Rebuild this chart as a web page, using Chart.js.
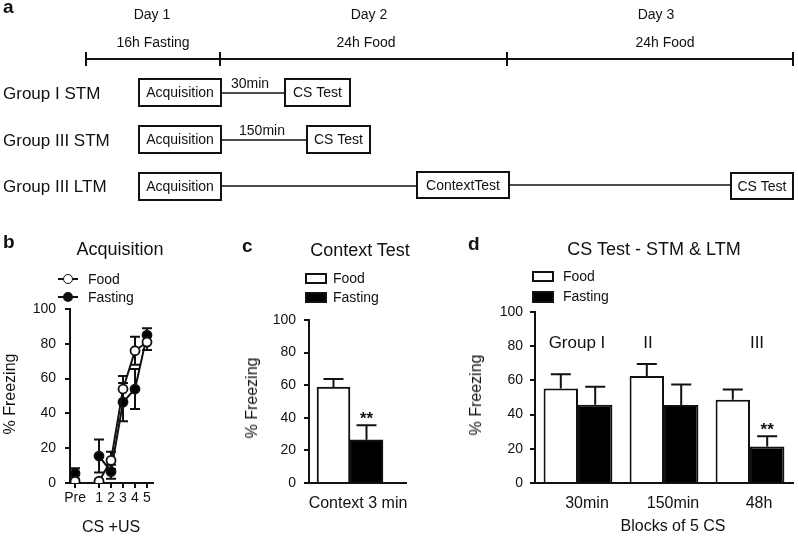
<!DOCTYPE html>
<html lang="en">
<head>
<meta charset="UTF-8">
<title>Fasting and fear conditioning</title>
<script src="https://cdn.jsdelivr.net/npm/chart.js@4.4.0/dist/chart.umd.min.js"></script>
<style>
  body { margin: 0; background: #fff; }
  #fig { position: relative; width: 798px; height: 536px; overflow: hidden;
         font-family: "Liberation Sans", Arial, sans-serif; color: #111; }
  #fig canvas { position: absolute; }
  .t { position: absolute; white-space: nowrap; line-height: 1; }
  .c { transform: translate(-50%, -50%); }
  .l { transform: translateY(-50%); }
  .r { transform: translate(-50%, -50%) rotate(-90deg); }
  .letter { font-weight: bold; font-size: 19px; }
  .title { font-size: 18px; }
  .leg { font-size: 14px; }
  .ax { font-size: 16px; }
  .sw { position: absolute; box-sizing: border-box; border: 2px solid #111; }
</style>
</head>
<body>
<div id="fig">
  <canvas id="ca" width="798" height="220" style="left:0;top:0"></canvas>
  <canvas id="cb" width="215" height="306" style="left:0;top:230px"></canvas>
  <canvas id="cc" width="200" height="306" style="left:220px;top:230px"></canvas>
  <canvas id="cd" width="378" height="306" style="left:420px;top:230px"></canvas>

  <div class="t letter" style="left:3px;top:-3px">a</div>
  <div class="t letter" style="left:3px;top:232px">b</div>
  <div class="t letter" style="left:242px;top:236px">c</div>
  <div class="t letter" style="left:468px;top:234px">d</div>

  <!-- panel b -->
  <div class="t title c" style="left:120px;top:249px">Acquisition</div>
  <div style="position:absolute;left:58px;top:278px;width:20px;height:2px;background:#111"></div>
  <div class="sw" style="left:63px;top:274px;width:10px;height:10px;border-radius:50%;border-width:1.8px;background:#fff"></div>
  <div class="t leg l" style="left:88px;top:279px">Food</div>
  <div style="position:absolute;left:58px;top:296px;width:20px;height:2px;background:#111"></div>
  <div class="sw" style="left:63px;top:292px;width:10px;height:10px;border-radius:50%;background:#111"></div>
  <div class="t leg l" style="left:88px;top:297px">Fasting</div>
  <div class="t ax r" style="left:10px;top:394px">% Freezing</div>
  <div class="t ax c" style="left:111px;top:527px">CS +US</div>

  <!-- panel c -->
  <div class="t title c" style="left:360px;top:250px">Context Test</div>
  <div class="sw" style="left:305px;top:273px;width:22px;height:11px;background:#fff"></div>
  <div class="t leg l" style="left:333px;top:278px">Food</div>
  <div class="sw" style="left:305px;top:292px;width:22px;height:11px;background:#000"></div>
  <div class="t leg l" style="left:333px;top:297px">Fasting</div>
  <div class="t ax r" style="left:252px;top:398px">% Freezing</div>
  <div class="t ax c" style="left:358px;top:503px">Context 3 min</div>

  <!-- panel d -->
  <div class="t title c" style="left:654px;top:249px">CS Test - STM &amp; LTM</div>
  <div class="sw" style="left:532px;top:271px;width:22px;height:11px;background:#fff"></div>
  <div class="t leg l" style="left:563px;top:276px">Food</div>
  <div class="sw" style="left:532px;top:291px;width:22px;height:12px;background:#000"></div>
  <div class="t leg l" style="left:563px;top:296px">Fasting</div>
  <div class="t ax r" style="left:476px;top:395px">% Freezing</div>
  <div class="t ax c" style="left:673px;top:526px">Blocks of 5 CS</div>
  <div class="t c" style="left:577px;top:342px;font-size:17px">Group I</div>
  <div class="t c" style="left:648px;top:342px;font-size:17px">II</div>
  <div class="t c" style="left:757px;top:342px;font-size:17px">III</div>
</div>

<script>
// ---- panel a: protocol schematic (x, y in schematic units) ----
var dayTicks = [86, 220, 507, 793];
var dayLabels = [['Day 1', 152, 15], ['Day 2', 369, 15], ['Day 3', 656, 15]];
var periodLabels = [['16h Fasting', 153, 43], ['24h Food', 366, 43], ['24h Food', 665, 43]];
var groupLabels = [['Group I STM', 93], ['Group III STM', 140], ['Group III LTM', 186]];
// boxes: text, x0, x1, y0, y1
var protocolBoxes = [
  ['Acquisition', 139, 221, 79, 106], ['CS Test', 285, 350, 79, 106],
  ['Acquisition', 139, 221, 126, 153], ['CS Test', 307, 370, 126, 153],
  ['Acquisition', 139, 221, 173, 200], ['ContextTest', 417, 509, 172, 198], ['CS Test', 731, 793, 173, 199]
];
var delayLabels = [['30min', 250, 84], ['150min', 262, 131]];
var links = [[221, 285, 93], [221, 307, 140], [221, 417, 186], [509, 731, 185]];

// ---- panel b: acquisition ----
var acqTicks = [-1, 1, 2, 3, 4, 5];
var acqLabels = ['Pre', '1', '2', '3', '4', '5'];
var foodAcq = [1, 1, 13, 54, 76, 81];
var foodAcqErr = [1, 1, 5, 7.5, 8, 4.5];
var fastAcq = [5.5, 15.5, 6.5, 46.5, 54, 85];
var fastAcqErr = [3, 9.5, 4, 11, 11.5, 4];

// ---- panel c: context test ----
var ctxFood = 58.8, ctxFoodErr = 5;
var ctxFast = 26.5, ctxFastErr = 9;

// ---- panel d: CS test ----
var csLabels = ['30min', '150min', '48h'];
var csFood = [55.2, 62.6, 48.7];
var csFoodErr = [8.4, 7, 6];
var csFast = [45.8, 45.6, 21.4];
var csFastErr = [10.5, 12, 6];

var INK = '#111';
var FONT = '"Liberation Sans", Arial, sans-serif';
var tickFont = { family: FONT, size: 14 };

var errorBars = {
  id: 'errorBars',
  draw: function (chart, opts) {
    var ctx = chart.ctx, y = chart.scales.y;
    ctx.save();
    ctx.strokeStyle = INK;
    ctx.lineWidth = 2;
    chart.data.datasets.forEach(function (ds, i) {
      if (!ds.err) return;
      chart.getDatasetMeta(i).data.forEach(function (el, j) {
        var d = ds.data[j];
        var v = typeof d === 'object' ? d.y : d;
        var top = y.getPixelForValue(v + ds.err[j]);
        var bot = opts.both ? y.getPixelForValue(Math.max(0, v - ds.err[j])) : y.getPixelForValue(v);
        ctx.beginPath();
        ctx.moveTo(el.x, top); ctx.lineTo(el.x, bot);
        ctx.moveTo(el.x - opts.cap, top); ctx.lineTo(el.x + opts.cap, top);
        if (opts.both) { ctx.moveTo(el.x - opts.cap, bot); ctx.lineTo(el.x + opts.cap, bot); }
        ctx.stroke();
      });
    });
    ctx.restore();
  },
  beforeDatasetsDraw: function (chart, args, opts) { if (opts.before) this.draw(chart, opts); },
  afterDatasetsDraw: function (chart, args, opts) { if (!opts.before) this.draw(chart, opts); }
};

var stars = {
  id: 'stars',
  afterDatasetsDraw: function (chart, args, opts) {
    var ctx = chart.ctx;
    (opts.marks || []).forEach(function (m) {
      var ds = chart.data.datasets[m.ds];
      var el = chart.getDatasetMeta(m.ds).data[m.i];
      var d = ds.data[m.i];
      var v = (typeof d === 'object' ? d.y : d) + ds.err[m.i];
      ctx.save();
      ctx.fillStyle = INK;
      ctx.font = 'bold 17px ' + FONT;
      ctx.textAlign = 'center';
      ctx.textBaseline = 'alphabetic';
      ctx.fillText('**', el.x, chart.scales.y.getPixelForValue(v) - 1);
      ctx.restore();
    });
  }
};

function yScale(width, pad) {
  return {
    min: 0, max: 100,
    ticks: { stepSize: 20, font: tickFont, color: INK, padding: pad },
    grid: { drawOnChartArea: false, tickLength: 5, color: INK, lineWidth: 2 },
    border: { color: INK, width: 2 },
    afterFit: function (s) { s.width = width; }
  };
}

// panel a
var schematic = {
  id: 'schematic',
  afterDatasetsDraw: function (chart) {
    var ctx = chart.ctx, x = chart.scales.x, y = chart.scales.y;
    ctx.save();
    ctx.strokeStyle = INK; ctx.fillStyle = INK;
    ctx.lineWidth = 2;
    dayTicks.forEach(function (t) {
      ctx.beginPath();
      ctx.moveTo(x.getPixelForValue(t), y.getPixelForValue(52));
      ctx.lineTo(x.getPixelForValue(t), y.getPixelForValue(66));
      ctx.stroke();
    });
    ctx.textAlign = 'center'; ctx.textBaseline = 'middle';
    ctx.font = '14px ' + FONT;
    dayLabels.concat(periodLabels).concat(delayLabels).forEach(function (l) {
      ctx.fillText(l[0], x.getPixelForValue(l[1]), y.getPixelForValue(l[2]));
    });
    protocolBoxes.forEach(function (b) {
      var x0 = x.getPixelForValue(b[1]), x1 = x.getPixelForValue(b[2]);
      var y0 = y.getPixelForValue(b[3]), y1 = y.getPixelForValue(b[4]);
      ctx.fillStyle = '#fff';
      ctx.fillRect(x0, y0, x1 - x0, y1 - y0);
      ctx.strokeRect(x0, y0, x1 - x0, y1 - y0);
      ctx.fillStyle = INK;
      ctx.fillText(b[0], (x0 + x1) / 2, (y0 + y1) / 2 + 1);
    });
    ctx.textAlign = 'left';
    ctx.font = '17px ' + FONT;
    groupLabels.forEach(function (g) {
      ctx.fillText(g[0], x.getPixelForValue(3), y.getPixelForValue(g[1]) + 1);
    });
    ctx.restore();
  }
};

var lineSets = [{ data: [{ x: dayTicks[0], y: 59 }, { x: dayTicks[3], y: 59 }], borderWidth: 2.2 }];
links.forEach(function (k) {
  lineSets.push({ data: [{ x: k[0], y: k[2] }, { x: k[1], y: k[2] }], borderWidth: 1.5 });
});
lineSets.forEach(function (s) { s.showLine = true; s.borderColor = INK; s.pointRadius = 0; });

new Chart(document.getElementById('ca'), {
  type: 'scatter',
  data: { datasets: lineSets },
  options: {
    responsive: false, animation: false,
    layout: { padding: 0 },
    plugins: { legend: { display: false }, tooltip: { enabled: false } },
    scales: {
      x: { type: 'linear', display: false, min: 0, max: 798 },
      y: { type: 'linear', display: false, min: 0, max: 220, reverse: true }
    }
  },
  plugins: [schematic]
});

// panel b
function acqSet(label, vals, errs, fill) {
  return {
    label: label,
    data: acqTicks.map(function (t, i) { return { x: t, y: vals[i] }; }),
    err: errs,
    showLine: true,
    borderColor: INK, borderWidth: 2,
    pointBackgroundColor: fill, pointBorderColor: INK,
    pointRadius: 4.5, pointBorderWidth: 1.8,
    segment: { borderColor: function (c) { return c.p0DataIndex === 0 ? 'rgba(0,0,0,0)' : undefined; } }
  };
}

new Chart(document.getElementById('cb'), {
  type: 'scatter',
  data: { datasets: [acqSet('Food', foodAcq, foodAcqErr, '#fff'), acqSet('Fasting', fastAcq, fastAcqErr, '#000')] },
  options: {
    responsive: false, animation: false,
    layout: { padding: { left: 0, right: 62, top: 79, bottom: 23 } },
    plugins: {
      legend: { display: false }, tooltip: { enabled: false },
      errorBars: { before: true, both: true, cap: 5 }
    },
    scales: {
      x: {
        type: 'linear', min: -1.42, max: 5.5,
        afterBuildTicks: function (s) { s.ticks = acqTicks.map(function (v) { return { value: v }; }); },
        ticks: {
          font: tickFont, color: INK, padding: 2, autoSkip: false, maxRotation: 0,
          callback: function (v) { return acqLabels[acqTicks.indexOf(v)]; }
        },
        grid: { drawOnChartArea: false, tickLength: 5, color: INK, lineWidth: 2 },
        border: { color: INK, width: 2 },
        afterFit: function (s) { s.height = 30; }
      },
      y: yScale(70, 9)
    }
  },
  plugins: [errorBars]
});

// panel c
function ctxSet(label, x, v, e, fill) {
  return {
    label: label, data: [{ x: x, y: v }], err: [e],
    backgroundColor: fill, borderColor: INK, borderWidth: 2, borderSkipped: 'bottom',
    grouped: false, barThickness: 33
  };
}

new Chart(document.getElementById('cc'), {
  type: 'bar',
  data: { datasets: [ctxSet('Food', 0, ctxFood, ctxFoodErr, '#fff'), ctxSet('Fasting', 1, ctxFast, ctxFastErr, '#000')] },
  options: {
    responsive: false, animation: false,
    layout: { padding: { left: 0, right: 14, top: 90, bottom: 43 } },
    plugins: {
      legend: { display: false }, tooltip: { enabled: false },
      errorBars: { cap: 10 },
      stars: { marks: [{ ds: 1, i: 0 }] }
    },
    scales: {
      x: {
        type: 'linear', min: -0.742, max: 2.197, offset: false,
        ticks: { display: false },
        grid: { display: false },
        border: { color: INK, width: 2 },
        afterFit: function (s) { s.height = 10; }
      },
      y: yScale(89, 8)
    }
  },
  plugins: [errorBars, stars]
});

// panel d
new Chart(document.getElementById('cd'), {
  type: 'bar',
  data: {
    labels: csLabels,
    datasets: [
      { label: 'Food', data: csFood, err: csFoodErr, backgroundColor: '#fff', borderColor: INK, borderWidth: 2, borderSkipped: 'bottom' },
      { label: 'Fasting', data: csFast, err: csFastErr, backgroundColor: '#000', borderColor: INK, borderWidth: 2, borderSkipped: 'bottom' }
    ]
  },
  options: {
    responsive: false, animation: false,
    categoryPercentage: 0.8, barPercentage: 1,
    layout: { padding: { left: 0, right: 5, top: 82, bottom: 8 } },
    plugins: {
      legend: { display: false }, tooltip: { enabled: false },
      errorBars: { cap: 10 },
      stars: { marks: [{ ds: 1, i: 2 }] }
    },
    scales: {
      x: {
        ticks: { font: { family: FONT, size: 16 }, color: INK, padding: 3, labelOffset: 9, maxRotation: 0 },
        grid: { display: false },
        border: { color: INK, width: 2 },
        afterFit: function (s) { s.height = 45; }
      },
      y: yScale(115, 7)
    }
  },
  plugins: [errorBars, stars]
});
</script>
</body>
</html>
